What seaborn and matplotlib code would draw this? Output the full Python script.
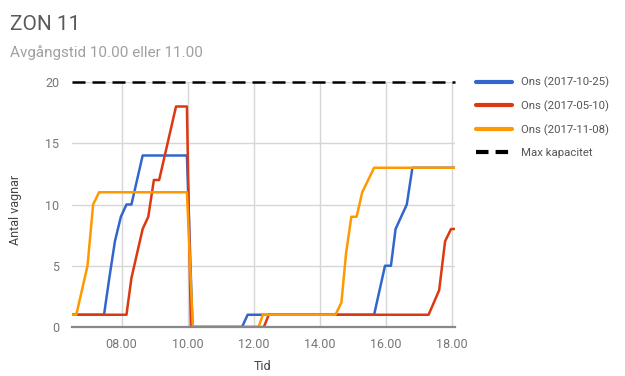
import matplotlib
matplotlib.use("Agg")
import matplotlib.pyplot as plt
import seaborn as sns
import pandas as pd

# Vehicle counts per zone over the day (time in decimal hours)
series_names = ["Ons (2017-10-25)", "Ons (2017-05-10)", "Ons (2017-11-08)"]
series_colors = ["#3366CC", "#DC3912", "#FF9900"]

blue_t = [6.5, 7.47, 7.63, 7.8, 7.98, 8.15, 8.3, 8.64, 9.98, 10.15, 11.65, 11.82,
          15.65, 15.98, 16.16, 16.3, 16.64, 16.81, 18.1]
blue_v = [1, 1, 4, 7, 9, 10, 10, 14, 14, 0, 0, 1,
          1, 5, 5, 8, 10, 13, 13]

red_t = [6.5, 8.15, 8.3, 8.47, 8.64, 8.81, 8.98, 9.14, 9.65, 9.98, 10.1, 12.31, 12.46,
         17.3, 17.62, 17.8, 17.98, 18.1]
red_v = [1, 1, 4, 6, 8, 9, 12, 12, 18, 18, 0, 0, 1,
         1, 3, 7, 8, 8]

orange_t = [6.5, 6.63, 6.97, 7.14, 7.32, 9.98, 10.16, 12.15, 12.28, 14.48, 14.66,
            14.8, 14.96, 15.12, 15.29, 15.65, 18.1]
orange_v = [1, 1, 5, 10, 11, 11, 0, 0, 1, 1, 2,
            6, 9, 9, 11, 13, 13]

max_capacity = 20
x_ticks = [8, 10, 12, 14, 16, 18]
x_tick_labels = ["08.00", "10.00", "12.00", "14.00", "16.00", "18.00"]
y_ticks = [0, 5, 10, 15, 20]

frames = []
for name, t, v in zip(series_names, [blue_t, red_t, orange_t], [blue_v, red_v, orange_v]):
    frames.append(pd.DataFrame({"Tid": t, "Antal vagnar": v, "Serie": name}))
df = pd.concat(frames, ignore_index=True)

sns.set_theme(style="white")
plt.rcParams["font.family"] = ["Roboto", "DejaVu Sans"]

fig = plt.figure(figsize=(6.25, 3.76), dpi=100)
ax = fig.add_axes([72 / 625, 1 - 327 / 376, (455 - 72) / 625, (327 - 82) / 376])

sns.lineplot(data=df, x="Tid", y="Antal vagnar", hue="Serie",
             hue_order=series_names, palette=series_colors,
             estimator=None, linewidth=1.8, ax=ax, legend=False)

x_min, x_max = 6.5, 18.1
ax.plot([x_min, x_max], [max_capacity, max_capacity], color="black",
        linestyle=(0, (5.2, 2.8)), linewidth=1.8, clip_on=False, zorder=5)

ax.set_xlim(x_min, x_max)
ax.set_ylim(0, 20)
ax.set_xticks(x_ticks)
ax.set_xticklabels(x_tick_labels)
ax.set_yticks(y_ticks)
ax.tick_params(axis="both", length=0, labelsize=9, colors="#757575")
ax.tick_params(axis="x", pad=8)
ax.tick_params(axis="y", pad=9)
ax.grid(True, color="#d6d6d6", linewidth=1)
ax.set_axisbelow(True)
for s in ["top", "right", "left"]:
    ax.spines[s].set_visible(False)
ax.spines["bottom"].set_color("#888888")
ax.spines["bottom"].set_linewidth(1.6)
ax.set_xlabel("")
ax.set_ylabel("")

fig.text(15 / 625, 1 - 210 / 376, "Antal vagnar", rotation=90, ha="center",
         va="center", fontsize=9, color="#444444")
fig.text(263 / 625, 1 - 366 / 376, "Tid", ha="center", va="center",
         fontsize=9, color="#444444")

fig.text(10 / 625, 1 - 25 / 376, "ZON 11", ha="left", va="center",
         fontsize=15, color="#5a5a5a")
fig.text(10 / 625, 1 - 53 / 376, "Avgångstid 10.00 eller 11.00", ha="left",
         va="center", fontsize=11, color="#a0a0a0")

# Legend on the right
handles = [plt.Line2D([], [], color=c, linewidth=3) for c in series_colors]
handles.append(plt.Line2D([], [], color="black", linewidth=3, linestyle=(0, (3.0, 1.7))))
labels = series_names + ["Max kapacitet"]
leg = fig.legend(handles, labels, loc="upper left",
                 bbox_to_anchor=(471 / 625, 1 - 72 / 376), frameon=False,
                 fontsize=8.2, handlelength=3.2, handletextpad=0.8,
                 labelspacing=1.08, borderaxespad=0)
for txt in leg.get_texts():
    txt.set_color("#555555")

fig.savefig("out.png", dpi=100)
